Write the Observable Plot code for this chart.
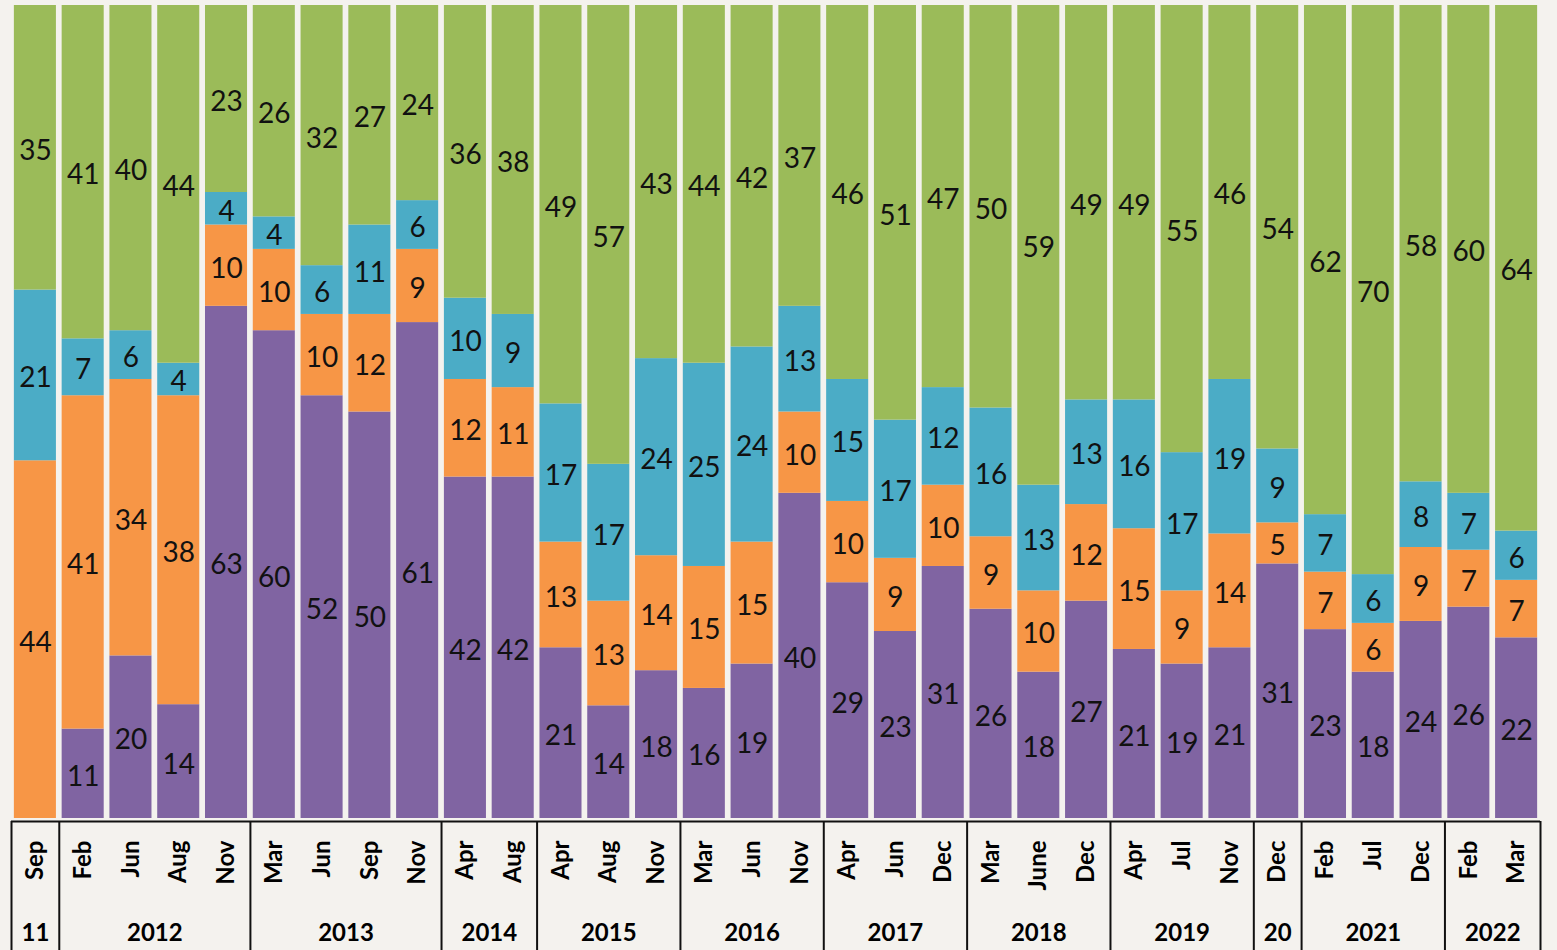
<!DOCTYPE html>
<html><head><meta charset="utf-8">
<script src="https://cdn.jsdelivr.net/npm/d3@7"></script>
<script src="https://cdn.jsdelivr.net/npm/@observablehq/plot@0.6"></script>
<style>
html,body{margin:0;padding:0;background:#f4f2ee;}
#chart svg{display:block}
</style></head><body><div id="chart"></div>
<script>
const months = ["Sep","Feb","Jun","Aug","Nov","Mar","Jun","Sep","Nov","Apr","Aug","Apr","Aug","Nov","Mar","Jun","Nov","Apr","Jun","Dec","Mar","June","Dec","Apr","Jul","Nov","Dec","Feb","Jul","Dec","Feb","Mar"];
const years = ["11","2012","2012","2012","2012","2013","2013","2013","2013","2014","2014","2015","2015","2015","2016","2016","2016","2017","2017","2017","2018","2018","2018","2019","2019","2019","20","2021","2021","2021","2022","2022"];
const seriesNames = ["Series 1","Series 2","Series 3","Series 4"];
const purple = [0,11,20,14,63,60,52,50,61,42,42,21,14,18,16,19,40,29,23,31,26,18,27,21,19,21,31,23,18,24,26,22];
const orange = [44,41,34,38,10,10,10,12,9,12,11,13,13,14,15,15,10,10,9,10,9,10,12,15,9,14,5,7,6,9,7,7];
const blue = [21,7,6,4,4,4,6,11,6,10,9,17,17,24,25,24,13,15,17,12,16,13,13,16,17,19,9,7,6,8,7,6];
const green = [35,41,40,44,23,26,32,27,24,36,38,49,57,43,44,42,37,46,51,47,50,59,49,49,55,46,54,62,70,58,60,64];
const colors = ["#8064a2","#f79646","#4bacc6","#9bbb59"];

const keys = months.map((m, i) => `${m} ${years[i]}`);
const seriesValues = [purple, orange, blue, green];
const rows = [];
seriesValues.forEach((vals, s) => vals.forEach((v, i) => rows.push({key: keys[i], series: seriesNames[s], value: v})));

const W = 1557, ML = 11, MR = 17, PI = 0.12, PO = 0.06;
const step = (W - ML - MR) / (keys.length - PI + 2 * PO);
const BG = "#f4f2ee";

const p1 = Plot.plot({
  width: W, height: 820, marginTop: 5, marginBottom: 2, marginLeft: ML, marginRight: MR,
  style: {background: BG, fontFamily: "Lato, sans-serif"},
  x: {domain: keys, paddingInner: PI, paddingOuter: PO, round: false, axis: null},
  y: {axis: null},
  color: {domain: seriesNames, range: colors},
  marks: [
    Plot.barY(rows, Plot.stackY({offset: "normalize", x: "key", y: "value", fill: "series"})),
    Plot.text(rows, Plot.stackY({offset: "normalize", x: "key", y: "value", text: "value", filter: d => d.value > 0, fontSize: 28, dy: 3, fill: "#111"}))
  ]
});

// year groups
const groups = [];
years.forEach((y, i) => {
  if (i === 0 || years[i - 1] !== y) groups.push({year: y, start: i, end: i});
  else groups[groups.length - 1].end = i;
});

const p2 = Plot.plot({
  width: W, height: 130, marginTop: 1, marginBottom: 0, marginLeft: ML, marginRight: MR,
  style: {background: BG, fontFamily: "Lato, sans-serif"},
  x: {domain: keys, paddingInner: PI, paddingOuter: PO, round: false, axis: null},
  y: {domain: [0, 1], axis: null},
  marks: [
    Plot.ruleY([1], {stroke: "#111", strokeWidth: 2}),
    Plot.ruleX(groups, {x: g => keys[g.start], dx: -step / 2, stroke: "#111", strokeWidth: 2}),
    Plot.ruleX([keys[keys.length - 1]], {dx: step / 2, stroke: "#111", strokeWidth: 2}),
    Plot.text(keys, {x: d => d, text: (d, i) => months[i], frameAnchor: "top", lineAnchor: "middle", dy: 19, rotate: -90, textAnchor: "end", fontWeight: 700, fontSize: 24, fill: "#000"}),
    Plot.text(groups, {x: g => keys[g.start], text: "year", frameAnchor: "bottom", lineAnchor: "middle", dy: -17, fontWeight: 700, fontSize: 24, fill: "#000"})
  ]
});
document.getElementById("chart").append(p1, p2);
// center year labels over their groups
const yearTexts = p2.querySelectorAll("g[aria-label='text']")[1].querySelectorAll("text");
yearTexts.forEach((t, i) => {
  const g = groups[i];
  const off = (g.end - g.start) / 2 * step;
  const tr = t.getAttribute("transform") || "";
  t.setAttribute("transform", `translate(${off},0) ` + tr);
});
</script></body></html>
